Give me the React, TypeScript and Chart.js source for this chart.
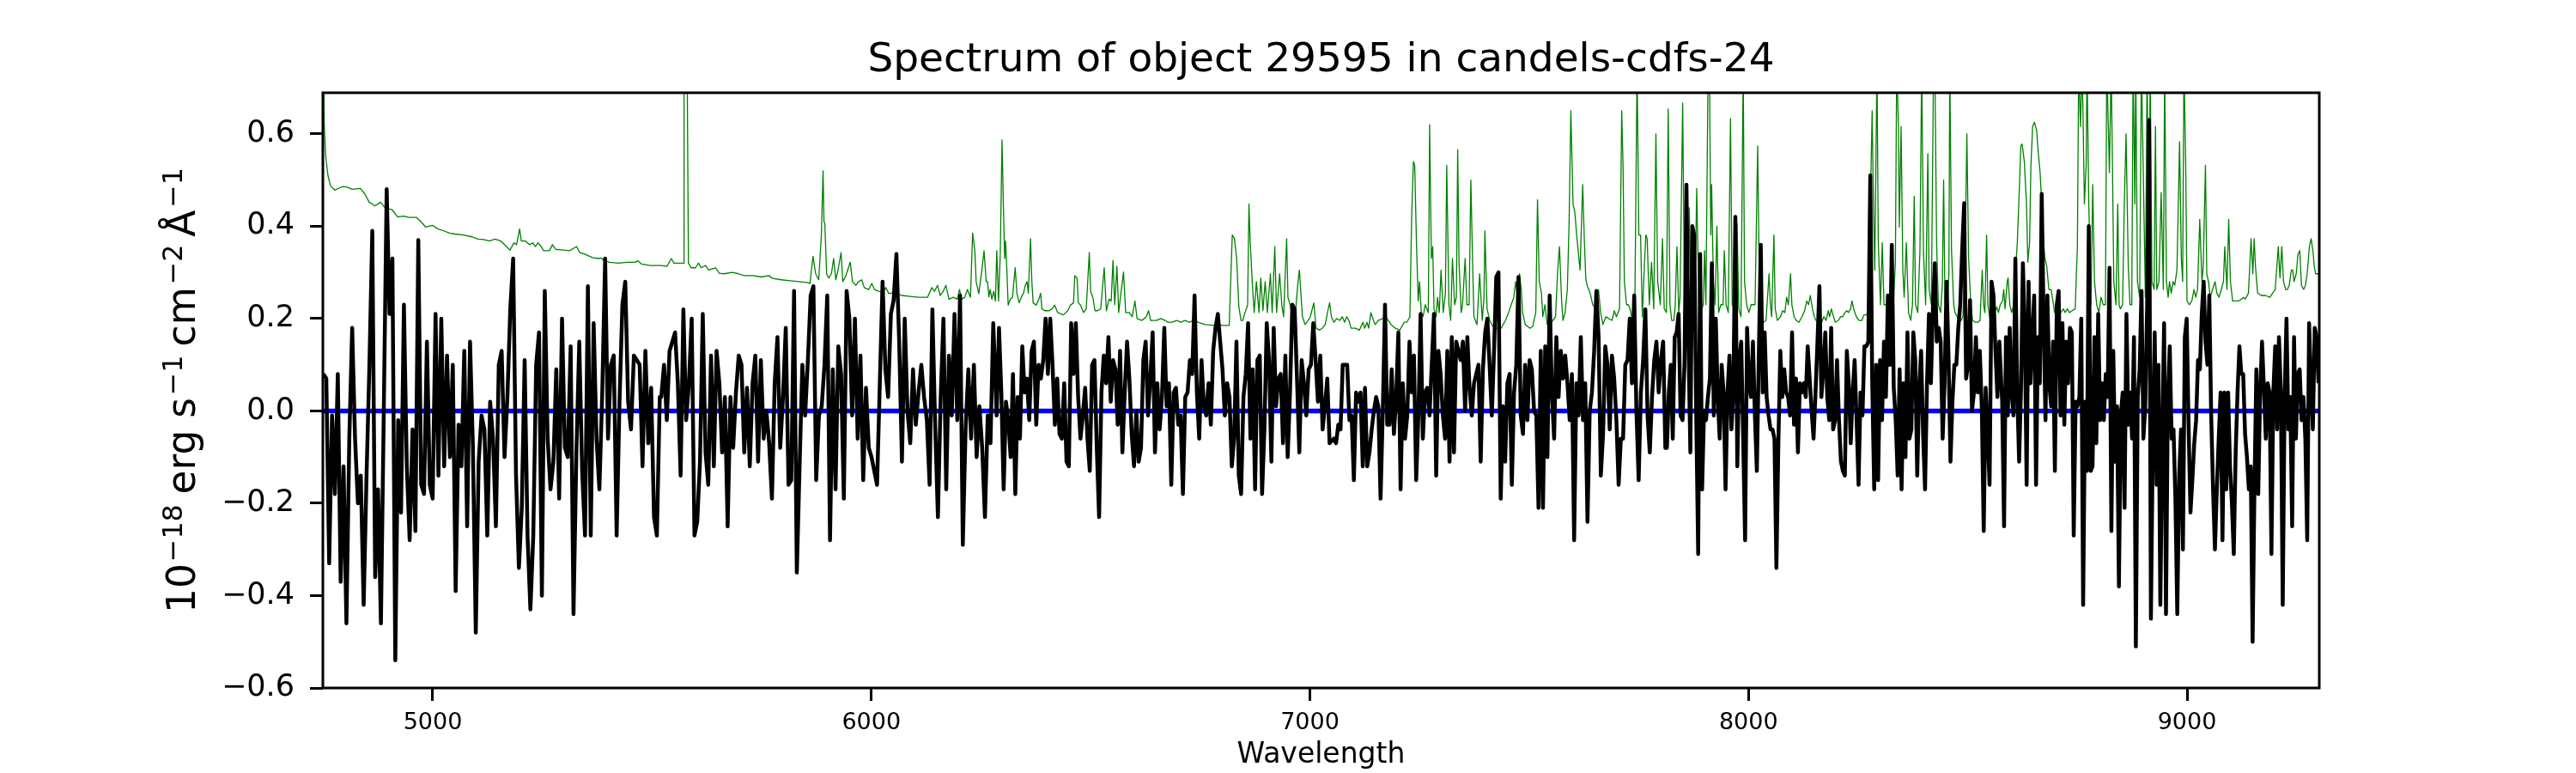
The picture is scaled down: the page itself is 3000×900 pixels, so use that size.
import React, { useEffect, useRef } from 'react';
import Chart from 'chart.js/auto';

// axis limits and ticks (Angstrom / 1e-18 erg s-1 cm-2 A-1)
const xMin = 4749.4;
const xMax = 9301.5;
const yMin = -0.6;
const yMax = 0.689;
const xTicks = [5000, 6000, 7000, 8000, 9000];
const yTicks = [-0.6, -0.4, -0.2, 0, 0.2, 0.4, 0.6];

const titleText = 'Spectrum of object 29595 in candels-cdfs-24';
const xLabelText = 'Wavelength';

// flux is read piecewise; each piece sits on an even wavelength grid
const segStart = [4750.7, 5521, 6285.8, 7054.6, 7814, 8578.5];
const segEnd = [5517.6, 6278, 7044.9, 7810.5, 8572.1, 9299.8];

const flux1 = [
  0.08, 0.07, -0.33, -0.01, -0.18, 0.08, -0.37, -0.12, -0.46, -0.06,
  0.18, -0.06, -0.2, -0.14, -0.42, -0.14, 0.1, 0.39, -0.36, -0.17,
  -0.46, 0.0, 0.48, 0.21, 0.33, -0.54, -0.02, -0.22, 0.23, -0.12,
  -0.28, -0.04, -0.26, 0.37, -0.16, -0.18, 0.15, -0.16, -0.19, 0.21,
  -0.14, 0.2, -0.12, 0.12, -0.1, 0.1, -0.39, -0.03, -0.12, 0.13,
  -0.25, 0.15, -0.08, -0.48, -0.11, -0.01, -0.04, -0.27, 0.02, -0.06,
  -0.25, 0.1, 0.13, -0.1, 0.03, 0.22, 0.33, -0.14, -0.34, -0.21,
  0.11, -0.27, -0.43, -0.27, 0.1, 0.17, -0.4, 0.26, -0.06, -0.17,
  -0.11, 0.09, -0.19, 0.2, -0.08, -0.1, 0.14, -0.44, -0.09, 0.15,
  -0.13, -0.27, 0.27, -0.27, 0.19, -0.06, -0.17, 0.04, 0.33, -0.06,
  0.1, 0.12, -0.27, 0.02, 0.23, 0.28, 0.02, -0.04, 0.12, 0.11,
  0.1, -0.12, 0.13, -0.07, 0.05, -0.23, -0.27, 0.03,
];

const flux2 = [
  0.03, 0.1, -0.02, 0.13, 0.15, 0.17, 0.06, -0.14, 0.22, -0.02,
  0.06, 0.2, -0.27, -0.24, -0.11, 0.21, -0.09, -0.16, 0.12, -0.12,
  0.13, 0.06, -0.09, 0.03, -0.25, 0.03, -0.08, 0.04, 0.12, 0.1,
  -0.09, 0.05, -0.12, 0.06, 0.12, -0.11, 0.11, -0.06, 0.0, -0.07,
  -0.19, 0.06, 0.16, -0.08, 0.03, 0.18, -0.16, -0.15, 0.26, -0.35,
  -0.12, 0.1, -0.01, 0.11, 0.25, 0.27, -0.15, -0.01, 0.01, 0.1,
  0.25, -0.28, 0.09, -0.17, 0.14, 0.08, -0.19, 0.26, 0.2, -0.01,
  0.2, -0.06, 0.12, -0.15, 0.05, -0.08, -0.1, -0.13, -0.16, 0.06,
  0.28, 0.09, 0.03, 0.21, 0.24, 0.34, 0.15, -0.11, 0.2, 0.0,
  -0.07, 0.09, -0.03, 0.04, 0.1, 0.03, -0.02, -0.16, 0.22, -0.03,
  -0.23, 0.03, 0.2, -0.17, 0.12, -0.01, 0.21, -0.02, 0.25, -0.29,
  -0.04, 0.09, -0.06, 0.1, -0.1, 0.01, -0.08, -0.23, -0.01, -0.07,
  0.19,
];

const flux3 = [
  -0.01, 0.18, 0.04, -0.17, 0.02, -0.02, -0.1, 0.08, -0.18, 0.03,
  -0.06, 0.14, 0.04, 0.07, -0.02, 0.13, 0.15, -0.03, 0.1, 0.07,
  0.11, 0.2, 0.08, 0.2, 0.1, -0.03, 0.07, -0.05, -0.06, 0.06,
  -0.11, -0.12, 0.19, 0.08, 0.19, 0.03, -0.06, -0.01, 0.05, -0.06,
  -0.13, 0.1, 0.11, -0.08, -0.23, 0.04, 0.12, 0.06, 0.16, 0.02,
  0.11, 0.09, -0.03, 0.13, -0.09, 0.04, 0.15, 0.07, -0.05, -0.12,
  0.0, -0.11, -0.08, 0.11, 0.15, -0.01, 0.07, 0.17, -0.09, 0.06,
  -0.04, 0.03, 0.18, 0.01, 0.06, -0.16, 0.04, 0.05, -0.03, -0.01,
  -0.18, 0.03, 0.04, 0.11, 0.08, 0.25, 0.04, -0.06, 0.11, 0.01,
  -0.01, 0.06, -0.03, 0.13, 0.18, 0.21, 0.15, 0.09, -0.01, 0.06,
  0.03, -0.12, -0.06, 0.15, -0.14, -0.18, 0.03, 0.08, 0.19, -0.06,
  0.09, -0.17, 0.11, 0.12, -0.18, -0.04, 0.19, 0.11, -0.11, 0.18,
  0.01, 0.07, 0.08, -0.07, 0.12, -0.1, 0.04, 0.23, 0.22, 0.07,
  -0.09, 0.11, 0.06, -0.01, 0.09, 0.1, 0.19, 0.11, 0.02, 0.12,
  -0.04, 0.01, 0.07, -0.07,
];

const flux4 = [
  -0.06, -0.07, -0.03, -0.04, 0.1, 0.1, 0.1, -0.02, -0.01, -0.15,
  0.04, 0.02, 0.04, -0.12, 0.05, -0.12, -0.09, -0.04, 0.0, 0.03,
  0.01, -0.19, 0.0, 0.23, -0.03, -0.03, 0.09, -0.05, 0.03, 0.17,
  -0.17, 0.06, -0.06, -0.01, 0.15, 0.04, 0.12, -0.15, -0.01, 0.21,
  -0.06, 0.04, 0.05, -0.01, 0.1, 0.21, -0.14, 0.13, 0.08, -0.01,
  -0.06, 0.13, -0.11, 0.16, -0.09, 0.15, 0.13, 0.11, 0.15, 0.0,
  0.16, 0.05, -0.01, 0.06, 0.08, 0.1, -0.11, 0.09, 0.17, 0.2,
  0.1, -0.01, 0.13, 0.29, 0.3, -0.19, 0.01, -0.11, 0.06, 0.08,
  -0.16, 0.04, 0.1, 0.29, -0.01, -0.05, 0.1, -0.02, 0.11, 0.09,
  0.0, -0.01, -0.21, 0.13, -0.21, 0.14, -0.1, 0.25, 0.04, -0.06,
  0.16, 0.03, 0.13, 0.07, 0.12, 0.06, -0.02, 0.08, -0.28, 0.06,
  -0.01, 0.16, -0.02, 0.06, -0.24, 0.0, 0.04, 0.13, 0.26, 0.16,
  -0.14, -0.05, 0.14, 0.1, -0.04, 0.12, 0.07, -0.02, -0.16, -0.06,
  -0.06, 0.1, 0.11, 0.2, 0.06, 0.25, 0.0, -0.15, 0.04, 0.11,
  0.22, -0.01, -0.09, 0.03, 0.11, 0.15, 0.04, 0.11, 0.15, -0.08,
];

const flux5 = [
  -0.08, 0.04, 0.1, -0.06, 0.16, 0.17, 0.21, -0.01, -0.02, 0.1,
  0.49, 0.16, -0.09, 0.4, 0.38, -0.01, -0.31, 0.34, -0.17, 0.0,
  -0.02, 0.03, 0.07, 0.32, -0.01, 0.2, 0.03, -0.06, 0.1, 0.04,
  -0.17, 0.04, 0.12, -0.04, 0.04, 0.42, -0.12, 0.11, 0.15, -0.06,
  -0.28, 0.18, 0.06, 0.03, 0.15, -0.01, -0.13, 0.12, 0.36, 0.04,
  0.17, 0.03, -0.01, -0.04, -0.04, -0.06, -0.34, -0.07, 0.13, 0.03,
  0.09, 0.04, 0.03, -0.01, 0.17, -0.03, 0.07, -0.09, 0.06, 0.04,
  0.06, 0.03, 0.14, 0.07, 0.0, -0.06, 0.04, 0.15, 0.27, 0.03,
  0.09, 0.17, 0.03, -0.02, 0.18, -0.04, -0.02, 0.11, -0.02, -0.11,
  -0.13, -0.14, 0.13, 0.06, -0.07, 0.04, 0.11, -0.02, -0.16, 0.04,
  -0.01, 0.14, 0.14, 0.15, 0.51, 0.06, -0.17, 0.1, -0.15, 0.11,
  -0.02, 0.15, 0.03, 0.25, 0.1, 0.36, 0.05, -0.02, -0.14, 0.09,
  -0.17, 0.06, -0.1, 0.17, -0.06, -0.04, 0.17, 0.11, -0.14, 0.05,
  0.13, -0.05, -0.17, 0.06, 0.21, 0.06, 0.22, 0.32, 0.15, 0.18,
  0.15, -0.06, 0.06, 0.28, 0.12, -0.11, 0.02, 0.1, 0.1, 0.18,
  0.23, 0.35, 0.45, 0.07, 0.1, 0.24, 0.0, 0.04, 0.16, 0.04,
  0.13, 0.01, -0.26, 0.05, -0.05, -0.16, 0.28, 0.25, 0.13, 0.03,
  0.15,
];

const flux6 = [
  0.02, -0.25, 0.16, -0.01, 0.18, 0.04, -0.01, 0.33, 0.04, -0.11,
  0.05, 0.32, 0.18, -0.16, 0.28, 0.06, 0.16, 0.25, -0.16, 0.16,
  0.06, 0.47, 0.2, -0.02, 0.25, 0.06, 0.01, 0.15, -0.13, 0.23,
  0.26, -0.01, 0.19, -0.03, 0.15, 0.06, 0.18, 0.17, -0.27, 0.02,
  0.01, 0.03, 0.2, -0.42, 0.02, -0.13, 0.4, -0.13, -0.12, 0.16,
  -0.07, 0.21, -0.02, 0.06, -0.02, 0.08, 0.03, 0.31, -0.26, 0.13,
  -0.11, 0.01, -0.38, -0.01, 0.04, -0.21, 0.21, -0.03, 0.04, -0.06,
  0.16, -0.51, 0.03, 0.09, 0.26, -0.06, 0.01, 0.23, 0.63, -0.45,
  -0.06, 0.17, -0.16, 0.1, -0.42, -0.06, 0.19, -0.44, 0.03, 0.14,
  -0.06, -0.04, -0.19, -0.44, -0.14, -0.04, -0.3, 0.16, 0.2, -0.03,
  -0.22, -0.15, -0.07, -0.02, 0.11, 0.09, 0.21, 0.28, 0.15, 0.1,
  0.25, -0.01, -0.17, -0.3, -0.17, -0.06, 0.04, -0.28, 0.04, -0.17,
  0.04, -0.12, -0.2, -0.31, -0.09, 0.04, 0.14, 0.08, 0.08, -0.05,
  -0.1, -0.17, -0.12, -0.5, -0.16, 0.09, -0.18, 0.04, 0.15, 0.05,
  -0.06, 0.06, 0.04, -0.31, 0.04, 0.14, -0.04, 0.16, 0.04, -0.42,
  0.03, 0.2, -0.04, 0.03, -0.25, 0.16, -0.06, 0.08, 0.09, -0.02,
  0.03, -0.06, -0.28, 0.19, 0.06, -0.04, 0.18, 0.16, 0.06,
];

// [wavelength, value] of the green (sky / error) curve
const skySpectrum: [number, number][] = [
  [4749, 0.95], [4750.5, 0.8], [4752.5, 0.62], [4756, 0.55], [4761, 0.51], [4767, 0.487], [4777, 0.478],
  [4787, 0.483], [4796, 0.486], [4806, 0.484], [4816, 0.48], [4835, 0.482], [4845, 0.47],
  [4855, 0.452], [4862, 0.448], [4868, 0.444], [4881, 0.452], [4891, 0.44], [4907, 0.436],
  [4920, 0.42], [4933, 0.422], [4946, 0.419], [4963, 0.419], [4973, 0.41], [4984, 0.398],
  [4999, 0.402], [5012, 0.394], [5025, 0.39], [5038, 0.385], [5051, 0.383], [5070, 0.381],
  [5090, 0.377], [5103, 0.372], [5116, 0.371], [5129, 0.368], [5142, 0.372], [5155, 0.368],
  [5168, 0.356], [5176, 0.348], [5185, 0.364], [5191, 0.36], [5198, 0.394], [5202, 0.368],
  [5211, 0.368], [5221, 0.36], [5228, 0.364], [5234, 0.356], [5240, 0.364], [5247, 0.356],
  [5253, 0.347], [5266, 0.347], [5273, 0.36], [5280, 0.35], [5292, 0.349], [5312, 0.347],
  [5328, 0.356], [5335, 0.343], [5348, 0.339], [5364, 0.332], [5377, 0.33], [5384, 0.331],
  [5390, 0.326], [5403, 0.322], [5423, 0.32], [5443, 0.322], [5461, 0.322], [5468, 0.325],
  [5476, 0.318], [5495, 0.315], [5521, 0.315], [5534, 0.313], [5544, 0.33], [5550, 0.32],
  [5567, 0.32], [5572, 0.32], [5573, 0.75], [5580, 0.75], [5583, 0.32], [5589, 0.31],
  [5599, 0.31], [5606, 0.32], [5612, 0.31], [5622, 0.315], [5629, 0.305], [5645, 0.31],
  [5653, 0.298], [5664, 0.297], [5684, 0.3], [5697, 0.297], [5710, 0.293], [5730, 0.293],
  [5749, 0.29], [5766, 0.293], [5775, 0.287], [5795, 0.284], [5815, 0.282], [5834, 0.28],
  [5854, 0.278], [5860, 0.276], [5867, 0.335], [5873, 0.297], [5880, 0.284], [5886, 0.38],
  [5890, 0.52], [5892, 0.41], [5894, 0.406], [5898, 0.297], [5903, 0.288], [5909, 0.297],
  [5914, 0.33], [5919, 0.284], [5924, 0.305], [5931, 0.343], [5935, 0.28], [5942, 0.293],
  [5946, 0.305], [5952, 0.322], [5957, 0.28], [5965, 0.272], [5971, 0.28], [5978, 0.284],
  [5984, 0.267], [5994, 0.263], [6001, 0.276], [6007, 0.263], [6017, 0.259], [6027, 0.257],
  [6033, 0.267], [6040, 0.254], [6056, 0.257], [6069, 0.25], [6089, 0.248], [6108, 0.246],
  [6128, 0.246], [6138, 0.267], [6144, 0.259], [6151, 0.272], [6157, 0.25], [6164, 0.259],
  [6170, 0.272], [6177, 0.242], [6187, 0.246], [6196, 0.242], [6201, 0.263], [6206, 0.242],
  [6213, 0.246], [6219, 0.263], [6226, 0.246], [6231, 0.385], [6236, 0.347], [6239, 0.28],
  [6245, 0.254], [6252, 0.305], [6257, 0.347], [6262, 0.28], [6265, 0.28], [6268, 0.247],
  [6271, 0.263], [6275, 0.242], [6279, 0.259], [6283, 0.238], [6286, 0.347], [6290, 0.238],
  [6294, 0.339], [6298, 0.587], [6301, 0.448], [6304, 0.33], [6306, 0.368], [6309, 0.305],
  [6312, 0.229], [6317, 0.242], [6322, 0.246], [6325, 0.28], [6328, 0.31], [6332, 0.255],
  [6337, 0.234], [6342, 0.246], [6347, 0.255], [6351, 0.272], [6355, 0.28], [6358, 0.255],
  [6363, 0.373], [6366, 0.28], [6369, 0.234], [6376, 0.229], [6382, 0.242], [6386, 0.255],
  [6389, 0.221], [6395, 0.217], [6405, 0.217], [6412, 0.221], [6418, 0.229], [6425, 0.213],
  [6438, 0.208], [6448, 0.217], [6454, 0.229], [6461, 0.234], [6464, 0.293], [6469, 0.288],
  [6472, 0.234], [6477, 0.229], [6484, 0.213], [6490, 0.221], [6497, 0.343], [6500, 0.259],
  [6505, 0.246], [6510, 0.217], [6516, 0.217], [6523, 0.221], [6531, 0.31], [6536, 0.217],
  [6542, 0.242], [6547, 0.238], [6551, 0.326], [6555, 0.23], [6560, 0.313], [6564, 0.213],
  [6568, 0.246], [6575, 0.301], [6580, 0.213], [6588, 0.213], [6595, 0.204], [6601, 0.238],
  [6606, 0.2], [6617, 0.196], [6627, 0.204], [6632, 0.217], [6637, 0.196], [6650, 0.196],
  [6660, 0.2], [6670, 0.196], [6676, 0.192], [6686, 0.192], [6696, 0.196], [6706, 0.192],
  [6715, 0.196], [6725, 0.192], [6735, 0.196], [6745, 0.192], [6761, 0.187], [6781, 0.185],
  [6787, 0.189], [6800, 0.185], [6816, 0.185], [6823, 0.381], [6828, 0.373], [6833, 0.33],
  [6838, 0.225], [6843, 0.196], [6847, 0.196], [6852, 0.213], [6858, 0.229], [6861, 0.448],
  [6864, 0.364], [6869, 0.272], [6873, 0.213], [6878, 0.28], [6884, 0.213], [6888, 0.288],
  [6893, 0.217], [6898, 0.28], [6903, 0.213], [6910, 0.297], [6914, 0.213], [6920, 0.356],
  [6924, 0.213], [6931, 0.297], [6936, 0.229], [6940, 0.204], [6947, 0.373], [6950, 0.246],
  [6955, 0.229], [6960, 0.204], [6967, 0.213], [6973, 0.28], [6976, 0.305], [6983, 0.204],
  [6989, 0.187], [6996, 0.196], [7001, 0.204], [7009, 0.234], [7014, 0.179], [7022, 0.175],
  [7028, 0.179], [7035, 0.187], [7040, 0.213], [7045, 0.234], [7049, 0.204], [7055, 0.192],
  [7061, 0.2], [7068, 0.196], [7074, 0.204], [7079, 0.192], [7084, 0.204], [7089, 0.196],
  [7094, 0.179], [7104, 0.179], [7113, 0.175], [7121, 0.192], [7125, 0.179], [7130, 0.192],
  [7134, 0.179], [7139, 0.213], [7145, 0.196], [7149, 0.187], [7156, 0.196], [7166, 0.2],
  [7172, 0.204], [7179, 0.196], [7185, 0.187], [7195, 0.179], [7205, 0.175], [7215, 0.192],
  [7221, 0.192], [7228, 0.204], [7232, 0.42], [7236, 0.54], [7239, 0.532], [7243, 0.364],
  [7247, 0.238], [7250, 0.28], [7254, 0.213], [7258, 0.204], [7263, 0.23], [7270, 0.213],
  [7273, 0.62], [7277, 0.33], [7280, 0.356], [7283, 0.221], [7288, 0.204], [7291, 0.246],
  [7295, 0.213], [7299, 0.305], [7304, 0.213], [7309, 0.255], [7312, 0.532], [7317, 0.23],
  [7321, 0.196], [7325, 0.33], [7330, 0.23], [7334, 0.246], [7337, 0.566], [7340, 0.322],
  [7345, 0.213], [7348, 0.23], [7354, 0.33], [7358, 0.23], [7363, 0.23], [7367, 0.5],
  [7371, 0.322], [7374, 0.204], [7381, 0.187], [7387, 0.297], [7393, 0.196], [7397, 0.246],
  [7399, 0.39], [7404, 0.221], [7410, 0.196], [7417, 0.183], [7423, 0.179], [7436, 0.179],
  [7446, 0.196], [7453, 0.213], [7459, 0.23], [7465, 0.246], [7469, 0.28], [7474, 0.242],
  [7478, 0.297], [7482, 0.263], [7485, 0.213], [7491, 0.187], [7502, 0.179], [7508, 0.183],
  [7515, 0.213], [7519, 0.457], [7523, 0.28], [7528, 0.255], [7531, 0.204], [7536, 0.23],
  [7541, 0.187], [7547, 0.183], [7554, 0.196], [7560, 0.204], [7565, 0.305], [7569, 0.356],
  [7574, 0.238], [7577, 0.196], [7582, 0.213], [7587, 0.263], [7591, 0.406], [7595, 0.65],
  [7600, 0.448], [7604, 0.431], [7609, 0.373], [7616, 0.305], [7622, 0.49], [7626, 0.364],
  [7629, 0.288], [7632, 0.272], [7639, 0.255], [7645, 0.23], [7652, 0.221], [7658, 0.263],
  [7663, 0.213], [7668, 0.187], [7675, 0.204], [7681, 0.2], [7689, 0.196], [7694, 0.217],
  [7699, 0.204], [7706, 0.221], [7711, 0.65], [7714, 0.532], [7717, 0.28], [7722, 0.23],
  [7726, 0.23], [7730, 0.221], [7735, 0.196], [7741, 0.23], [7746, 0.75], [7750, 0.381],
  [7754, 0.381], [7758, 0.204], [7763, 0.322], [7766, 0.381], [7769, 0.373], [7774, 0.23],
  [7779, 0.322], [7784, 0.221], [7789, 0.6], [7793, 0.28], [7799, 0.23], [7804, 0.373],
  [7808, 0.221], [7813, 0.213], [7817, 0.654], [7821, 0.23], [7825, 0.196], [7830, 0.196],
  [7833, 0.23], [7837, 0.356], [7841, 0.213], [7844, 0.246], [7850, 0.667], [7854, 0.246],
  [7859, 0.204], [7863, 0.28], [7865, 0.44], [7869, 0.23], [7874, 0.204], [7878, 0.246],
  [7882, 0.482], [7887, 0.23], [7891, 0.213], [7897, 0.23], [7900, 0.347], [7903, 0.23],
  [7908, 0.75], [7911, 0.75], [7914, 0.381], [7916, 0.49], [7920, 0.28], [7924, 0.23],
  [7928, 0.4], [7932, 0.213], [7937, 0.23], [7942, 0.23], [7945, 0.347], [7949, 0.23],
  [7954, 0.213], [7959, 0.633], [7963, 0.23], [7968, 0.221], [7974, 0.406], [7978, 0.221],
  [7983, 0.204], [7988, 0.75], [7991, 0.28], [7996, 0.23], [8001, 0.213], [8006, 0.23],
  [8011, 0.23], [8015, 0.23], [8021, 0.574], [8025, 0.263], [8028, 0.204], [8034, 0.192],
  [8040, 0.196], [8047, 0.297], [8050, 0.23], [8053, 0.204], [8058, 0.381], [8061, 0.221],
  [8066, 0.196], [8073, 0.204], [8078, 0.217], [8083, 0.213], [8087, 0.246], [8091, 0.23],
  [8096, 0.297], [8099, 0.23], [8104, 0.204], [8109, 0.196], [8115, 0.192], [8122, 0.204],
  [8128, 0.217], [8133, 0.238], [8137, 0.23], [8141, 0.25], [8146, 0.221], [8150, 0.204],
  [8154, 0.196], [8161, 0.196], [8167, 0.192], [8172, 0.204], [8177, 0.196], [8182, 0.217],
  [8185, 0.204], [8189, 0.221], [8194, 0.204], [8198, 0.192], [8205, 0.196], [8210, 0.204],
  [8215, 0.204], [8220, 0.213], [8224, 0.217], [8228, 0.213], [8233, 0.221], [8236, 0.238],
  [8241, 0.217], [8246, 0.204], [8252, 0.196], [8259, 0.196], [8263, 0.208], [8269, 0.208],
  [8274, 0.221], [8278, 0.448], [8282, 0.65], [8285, 0.448], [8288, 0.305], [8293, 0.75],
  [8296, 0.364], [8301, 0.23], [8305, 0.364], [8309, 0.23], [8313, 0.23], [8318, 0.221],
  [8322, 0.204], [8326, 0.238], [8331, 0.238], [8335, 0.322], [8338, 0.75], [8342, 0.616],
  [8344, 0.398], [8348, 0.616], [8352, 0.305], [8355, 0.246], [8360, 0.364], [8365, 0.213],
  [8370, 0.196], [8374, 0.23], [8378, 0.465], [8381, 0.23], [8386, 0.213], [8391, 0.347],
  [8395, 0.75], [8399, 0.347], [8404, 0.23], [8409, 0.557], [8412, 0.263], [8417, 0.23],
  [8422, 0.75], [8425, 0.75], [8429, 0.364], [8433, 0.23], [8438, 0.213], [8442, 0.272],
  [8445, 0.5], [8448, 0.238], [8453, 0.213], [8457, 0.297], [8459, 0.75], [8463, 0.347],
  [8468, 0.23], [8471, 0.213], [8476, 0.204], [8481, 0.196], [8485, 0.196], [8489, 0.204],
  [8494, 0.33], [8498, 0.6], [8502, 0.33], [8507, 0.23], [8511, 0.196], [8517, 0.192],
  [8523, 0.192], [8528, 0.196], [8533, 0.305], [8536, 0.23], [8539, 0.213], [8543, 0.381],
  [8546, 0.23], [8551, 0.196], [8556, 0.2], [8561, 0.213], [8566, 0.225], [8570, 0.213],
  [8574, 0.23], [8579, 0.238], [8582, 0.263], [8585, 0.221], [8590, 0.28], [8592, 0.288],
  [8596, 0.23], [8600, 0.213], [8605, 0.23], [8609, 0.305], [8613, 0.364], [8618, 0.49],
  [8621, 0.574], [8624, 0.578], [8629, 0.54], [8634, 0.448], [8637, 0.322], [8641, 0.364],
  [8644, 0.532], [8648, 0.616], [8652, 0.625], [8657, 0.608], [8661, 0.557], [8665, 0.516],
  [8670, 0.423], [8673, 0.364], [8676, 0.33], [8680, 0.314], [8685, 0.263], [8690, 0.263],
  [8693, 0.246], [8698, 0.213], [8703, 0.217], [8707, 0.204], [8712, 0.213], [8718, 0.221],
  [8722, 0.213], [8727, 0.221], [8732, 0.213], [8738, 0.217], [8745, 0.221], [8750, 0.356],
  [8753, 0.75], [8757, 0.616], [8761, 0.75], [8766, 0.448], [8770, 0.532], [8772, 0.75],
  [8776, 0.448], [8781, 0.23], [8785, 0.49], [8789, 0.28], [8794, 0.23], [8799, 0.213],
  [8804, 0.246], [8809, 0.23], [8814, 0.23], [8817, 0.75], [8821, 0.6], [8823, 0.516],
  [8827, 0.75], [8830, 0.532], [8833, 0.28], [8838, 0.23], [8842, 0.448], [8845, 0.23],
  [8848, 0.221], [8853, 0.23], [8857, 0.448], [8861, 0.6], [8866, 0.314], [8870, 0.23],
  [8874, 0.23], [8877, 0.75], [8881, 0.448], [8883, 0.75], [8887, 0.28], [8892, 0.246],
  [8896, 0.75], [8900, 0.532], [8905, 0.246], [8909, 0.75], [8913, 0.305], [8916, 0.75],
  [8920, 0.28], [8925, 0.263], [8928, 0.616], [8931, 0.263], [8936, 0.28], [8941, 0.473],
  [8946, 0.263], [8949, 0.75], [8953, 0.28], [8957, 0.246], [8960, 0.28], [8964, 0.255],
  [8968, 0.28], [8972, 0.272], [8977, 0.305], [8983, 0.583], [8987, 0.33], [8990, 0.28],
  [8993, 0.75], [8997, 0.532], [9000, 0.238], [9005, 0.23], [9011, 0.238], [9016, 0.263],
  [9020, 0.246], [9024, 0.263], [9029, 0.415], [9034, 0.28], [9037, 0.314], [9042, 0.532],
  [9045, 0.297], [9049, 0.28], [9053, 0.246], [9058, 0.263], [9064, 0.28], [9068, 0.255],
  [9073, 0.246], [9078, 0.263], [9083, 0.28], [9086, 0.356], [9091, 0.263], [9095, 0.415],
  [9099, 0.28], [9104, 0.238], [9111, 0.238], [9117, 0.238], [9124, 0.242], [9129, 0.246],
  [9133, 0.242], [9140, 0.255], [9143, 0.314], [9146, 0.373], [9150, 0.297], [9153, 0.373],
  [9156, 0.314], [9161, 0.255], [9169, 0.25], [9179, 0.25], [9189, 0.246], [9195, 0.255],
  [9201, 0.263], [9205, 0.314], [9208, 0.356], [9212, 0.288], [9216, 0.356], [9220, 0.28],
  [9225, 0.263], [9229, 0.263], [9233, 0.272], [9238, 0.305], [9241, 0.305], [9244, 0.28],
  [9249, 0.297], [9253, 0.339], [9257, 0.347], [9261, 0.272], [9266, 0.263], [9270, 0.272],
  [9274, 0.297], [9279, 0.356], [9283, 0.373], [9287, 0.347], [9290, 0.314], [9293, 0.297],
  [9299, 0.297], [9302, 0.3],
];

const FONT = "'DejaVu Sans', 'Liberation Sans', sans-serif";

const yLabelParts = [
  { text: '10', sup: false, gap: 0 },
  { text: '\u221218', sup: true, gap: 2 },
  { text: 'erg', sup: false, gap: 12 },
  { text: 's', sup: false, gap: 14 },
  { text: '\u22121', sup: true, gap: 3 },
  { text: 'cm', sup: false, gap: 10 },
  { text: '\u22122', sup: true, gap: 3 },
  { text: '\u00c5', sup: false, gap: 9 },
  { text: '\u22121', sup: true, gap: 3 },
];

function buildFlux() {
  const segments = [flux1, flux2, flux3, flux4, flux5, flux6];
  const pts: { x: number; y: number }[] = [];
  segments.forEach((seg, s) => {
    const step = (segEnd[s] - segStart[s]) / (seg.length - 1);
    seg.forEach((v, i) => pts.push({ x: segStart[s] + i * step, y: v }));
  });
  return pts;
}

const decorations = {
  id: 'decorations',
  afterDraw(chart: any) {
    const { ctx, chartArea: a } = chart;
    const cx = (a.left + a.right) / 2;
    ctx.save();
    // axes frame
    ctx.strokeStyle = '#000';
    ctx.lineWidth = 3;
    ctx.strokeRect(a.left, a.top, a.right - a.left, a.bottom - a.top);

    ctx.fillStyle = '#000';
    ctx.textAlign = 'center';
    ctx.textBaseline = 'alphabetic';
    ctx.font = `47px ${FONT}`;
    ctx.fillText(titleText, cx, 83);
    ctx.font = `33px ${FONT}`;
    ctx.fillText(xLabelText, cx, 888);

    // y label with superscripts, rotated
    const baseFont = `46px ${FONT}`;
    const supFont = `32px ${FONT}`;
    let total = 0;
    const widths = yLabelParts.map((p) => {
      ctx.font = p.sup ? supFont : baseFont;
      const w = ctx.measureText(p.text).width;
      total += p.gap + w;
      return w;
    });
    const stretch = 519 / total;
    ctx.translate(227, (a.top + a.bottom) / 2);
    ctx.rotate(-Math.PI / 2);
    ctx.scale(stretch, 1);
    ctx.textAlign = 'left';
    let x = -total / 2;
    yLabelParts.forEach((p, i) => {
      x += p.gap;
      ctx.font = p.sup ? supFont : baseFont;
      ctx.fillText(p.text, x, p.sup ? -15 : 0);
      x += widths[i];
    });
    ctx.restore();
  },
};

export default function App() {
  const canvasRef = useRef<HTMLCanvasElement>(null);

  useEffect(() => {
    document.body.style.margin = '0';
    if (!canvasRef.current) return;
    const ctx = canvasRef.current.getContext('2d');
    if (!ctx) return;

    const fluxPoints = buildFlux();
    const skyPoints = skySpectrum.map(([x, y]) => ({ x, y }));
    const zeroLine = [
      { x: xMin, y: 0 },
      { x: xMax, y: 0 },
    ];

    const tickFont = (size: number) => ({ family: FONT, size });

    const chart = new Chart(ctx, {
      type: 'line',
      data: {
        datasets: [
          {
            label: 'flux',
            data: fluxPoints,
            borderColor: '#000000',
            borderWidth: 4.5,
            borderJoinStyle: 'round',
            pointRadius: 0,
            tension: 0,
          },
          {
            label: 'zero',
            data: zeroLine,
            borderColor: '#0000ff',
            borderWidth: 5.5,
            pointRadius: 0,
          },
          {
            label: 'sky',
            data: skyPoints,
            borderColor: '#008000',
            borderWidth: 1.3,
            borderJoinStyle: 'round',
            pointRadius: 0,
            tension: 0,
          },
        ],
      },
      options: {
        animation: false,
        responsive: false,
        devicePixelRatio: 1,
        events: [],
        layout: { padding: { left: 0, top: 108, right: 299, bottom: 0 } },
        plugins: {
          legend: { display: false },
          tooltip: { enabled: false },
          title: { display: false },
        },
        scales: {
          x: {
            type: 'linear',
            min: xMin,
            max: xMax,
            afterFit: (axis: any) => {
              axis.height = 99;
            },
            afterBuildTicks: (axis: any) => {
              axis.ticks = xTicks.map((v) => ({ value: v }));
            },
            border: { display: false },
            grid: {
              drawOnChartArea: false,
              drawTicks: true,
              tickLength: 15,
              tickWidth: 3,
              tickColor: '#000',
            },
            ticks: {
              color: '#000',
              font: tickFont(27),
              padding: 10,
              maxRotation: 0,
              autoSkip: false,
              callback: (v: any) => String(v),
            },
          },
          y: {
            type: 'linear',
            min: yMin,
            max: yMax,
            afterFit: (axis: any) => {
              axis.width = 376;
            },
            afterBuildTicks: (axis: any) => {
              axis.ticks = yTicks.map((v) => ({ value: v }));
            },
            border: { display: false },
            grid: {
              drawOnChartArea: false,
              drawTicks: true,
              tickLength: 15,
              tickWidth: 3,
              tickColor: '#000',
            },
            ticks: {
              color: '#000',
              font: tickFont(35),
              padding: 18,
              autoSkip: false,
              callback: (v: any) => {
                const n = Number(v);
                return (n < -1e-9 ? '\u2212' : '') + Math.abs(n).toFixed(1);
              },
            },
          },
        },
      },
      plugins: [decorations],
    });

    return () => {
      chart.destroy();
    };
  }, []);

  return (
    <div style={{ width: 3000, height: 900, background: '#fff' }}>
      <canvas ref={canvasRef} width={3000} height={900} style={{ display: 'block', width: 3000, height: 900 }} />
    </div>
  );
}
